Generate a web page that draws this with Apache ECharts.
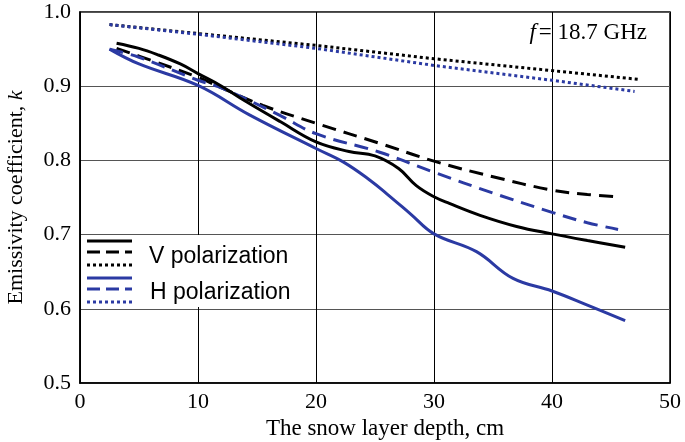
<!DOCTYPE html>
<html>
<head>
<meta charset="utf-8">
<script src="https://cdn.jsdelivr.net/npm/echarts@6/dist/echarts.min.js"></script>
<style>html,body{margin:0;padding:0;background:#fff}#c{width:685px;height:442px}</style>
</head>
<body>
<div id="c"></div>
<script>
// ---- data ----
var xTicks = [0, 10, 20, 30, 40, 50];
var yTicks = [0.5, 0.6, 0.7, 0.8, 0.9, 1.0];

var vSolidX = [3.1, 5, 6.5, 8.5, 10, 12, 14, 17, 20, 22.8, 25, 27, 28.5, 30, 31.3, 33.9, 37, 40, 43, 46.2];
var vSolidY = [0.958, 0.951, 0.943, 0.930, 0.917, 0.900, 0.880, 0.852, 0.825, 0.812, 0.806, 0.789, 0.766, 0.751, 0.742, 0.726, 0.711, 0.701, 0.692, 0.683];

var vDashX = [3.1, 6, 10, 12.1, 15.5, 20, 25.4, 30, 35, 40, 43, 45.6];
var vDashY = [0.951, 0.935, 0.912, 0.897, 0.874, 0.850, 0.823, 0.799, 0.778, 0.760, 0.754, 0.751];

var vDotX = [2.5, 10, 20, 30, 40, 47.5];
var vDotY = [0.983, 0.971, 0.955, 0.937, 0.921, 0.909];

var hSolidX = [2.5, 5, 10, 14.4, 20, 22.3, 24.6, 26, 28, 30, 33.6, 36.7, 40, 43, 46.2];
var hSolidY = [0.950, 0.930, 0.901, 0.861, 0.816, 0.798, 0.773, 0.755, 0.728, 0.701, 0.677, 0.641, 0.624, 0.605, 0.584];

var hDashX = [2.5, 5, 10, 12.1, 16.9, 20, 25.4, 30, 35, 40, 43, 45.6];
var hDashY = [0.950, 0.939, 0.908, 0.897, 0.861, 0.836, 0.811, 0.784, 0.756, 0.730, 0.716, 0.707];

var hDotX = [2.5, 10, 20, 30, 40, 47];
var hDotY = [0.983, 0.970, 0.951, 0.928, 0.908, 0.893];

var legendNames = ['V polarization', 'H polarization'];
var annotation = '18.7 GHz';

// ---- build ----
function pairs(xs, ys) { return xs.map(function (x, i) { return [x, ys[i]]; }); }
var BLACK = '#000000', BLUE = '#2b3aa3';
var serif = '"Liberation Serif","Times New Roman",serif';
var sans = '"Liberation Sans",Arial,sans-serif';

function ser(xs, ys, color, type, smooth) {
  return {
    type: 'line', data: pairs(xs, ys), showSymbol: false, smooth: smooth,
    lineStyle: { color: color, width: 3, type: type, cap: 'butt' }, z: 5
  };
}

var chart = echarts.init(document.getElementById('c'));
var option = {
  animation: false,
  backgroundColor: '#ffffff',
  grid: { left: 80, right: 15, top: 12, bottom: 59, outerBoundsMode: 'none', containLabel: false, show: true, borderColor: '#000', borderWidth: 1.5, backgroundColor: 'transparent' },
  xAxis: {
    type: 'value', min: 0, max: 50, interval: 10,
    axisLine: { show: true, lineStyle: { color: '#000', width: 1.5 } },
    axisTick: { show: false },
    axisLabel: { color: '#000', fontFamily: serif, fontSize: 22, margin: 8 },
    splitLine: { show: true, lineStyle: { color: '#000', width: 1 } },
    name: 'The snow layer depth, cm', nameLocation: 'middle', nameGap: 32,
    nameTextStyle: { color: '#000', fontFamily: serif, fontSize: 23, padding: [0, 0, 0, 20] }
  },
  yAxis: {
    type: 'value', min: 0.5, max: 1.0, interval: 0.1,
    axisLine: { show: true, lineStyle: { color: '#000', width: 1.5 } },
    axisTick: { show: false },
    axisLabel: { color: '#000', fontFamily: serif, fontSize: 22, margin: 9, formatter: function (v) { return v.toFixed(1); } },
    splitLine: { show: true, lineStyle: { color: '#555', width: 1 } },
    name: '{n|Emissivity coefficient, }{k|k}', nameLocation: 'middle', nameGap: 53, nameRotate: 90,
    nameTextStyle: { rich: { n: { color: '#000', fontFamily: serif, fontSize: 22 }, k: { color: '#000', fontFamily: serif, fontSize: 22, fontStyle: 'italic' } } }
  },
  series: [
    ser(vDotX, vDotY, BLACK, [3, 3], false),
    ser(hDotX, hDotY, BLUE, [3, 3], false),
    ser(vDashX, vDashY, BLACK, [14, 8], 0.4),
    ser(hDashX, hDashY, BLUE, [14, 8], 0.4),
    ser(hSolidX, hSolidY, BLUE, 'solid', 0.4),
    ser(vSolidX, vSolidY, BLACK, 'solid', 0.4)
  ],
  graphic: [
    { type: 'rect', z: 100, shape: { x: 81, y: 235, width: 234, height: 72 }, style: { fill: '#fff' } },
    { type: 'line', z: 101, shape: { x1: 87, y1: 241, x2: 132, y2: 241 }, style: { stroke: BLACK, lineWidth: 3 } },
    { type: 'line', z: 101, shape: { x1: 87, y1: 252, x2: 132, y2: 252 }, style: { stroke: BLACK, lineWidth: 3, lineDash: [13, 6] } },
    { type: 'line', z: 101, shape: { x1: 87, y1: 265, x2: 132, y2: 265 }, style: { stroke: BLACK, lineWidth: 3, lineDash: [3, 3] } },
    { type: 'line', z: 101, shape: { x1: 87, y1: 278, x2: 132, y2: 278 }, style: { stroke: BLUE, lineWidth: 3 } },
    { type: 'line', z: 101, shape: { x1: 87, y1: 289, x2: 132, y2: 289 }, style: { stroke: BLUE, lineWidth: 3, lineDash: [13, 6] } },
    { type: 'line', z: 101, shape: { x1: 87, y1: 302, x2: 132, y2: 302 }, style: { stroke: BLUE, lineWidth: 3, lineDash: [3, 3] } },
    { type: 'text', z: 101, x: 149, y: 257, style: { text: legendNames[0], fill: '#000', font: '23px ' + sans, textVerticalAlign: 'middle' } },
    { type: 'text', z: 101, x: 150, y: 293, style: { text: legendNames[1], fill: '#000', font: '23px ' + sans, textVerticalAlign: 'middle' } },
    { type: 'text', z: 101, right: 38, top: 21, style: { text: '{f|f}{t|= ' + annotation + '}', rich: { f: { fontFamily: serif, fontSize: 23, fontStyle: 'italic', fill: '#000', padding: [0, 3, 0, 0] }, t: { fontFamily: serif, fontSize: 23, fill: '#000' } } } }
  ]
};
chart.setOption(option);
</script>
</body>
</html>
